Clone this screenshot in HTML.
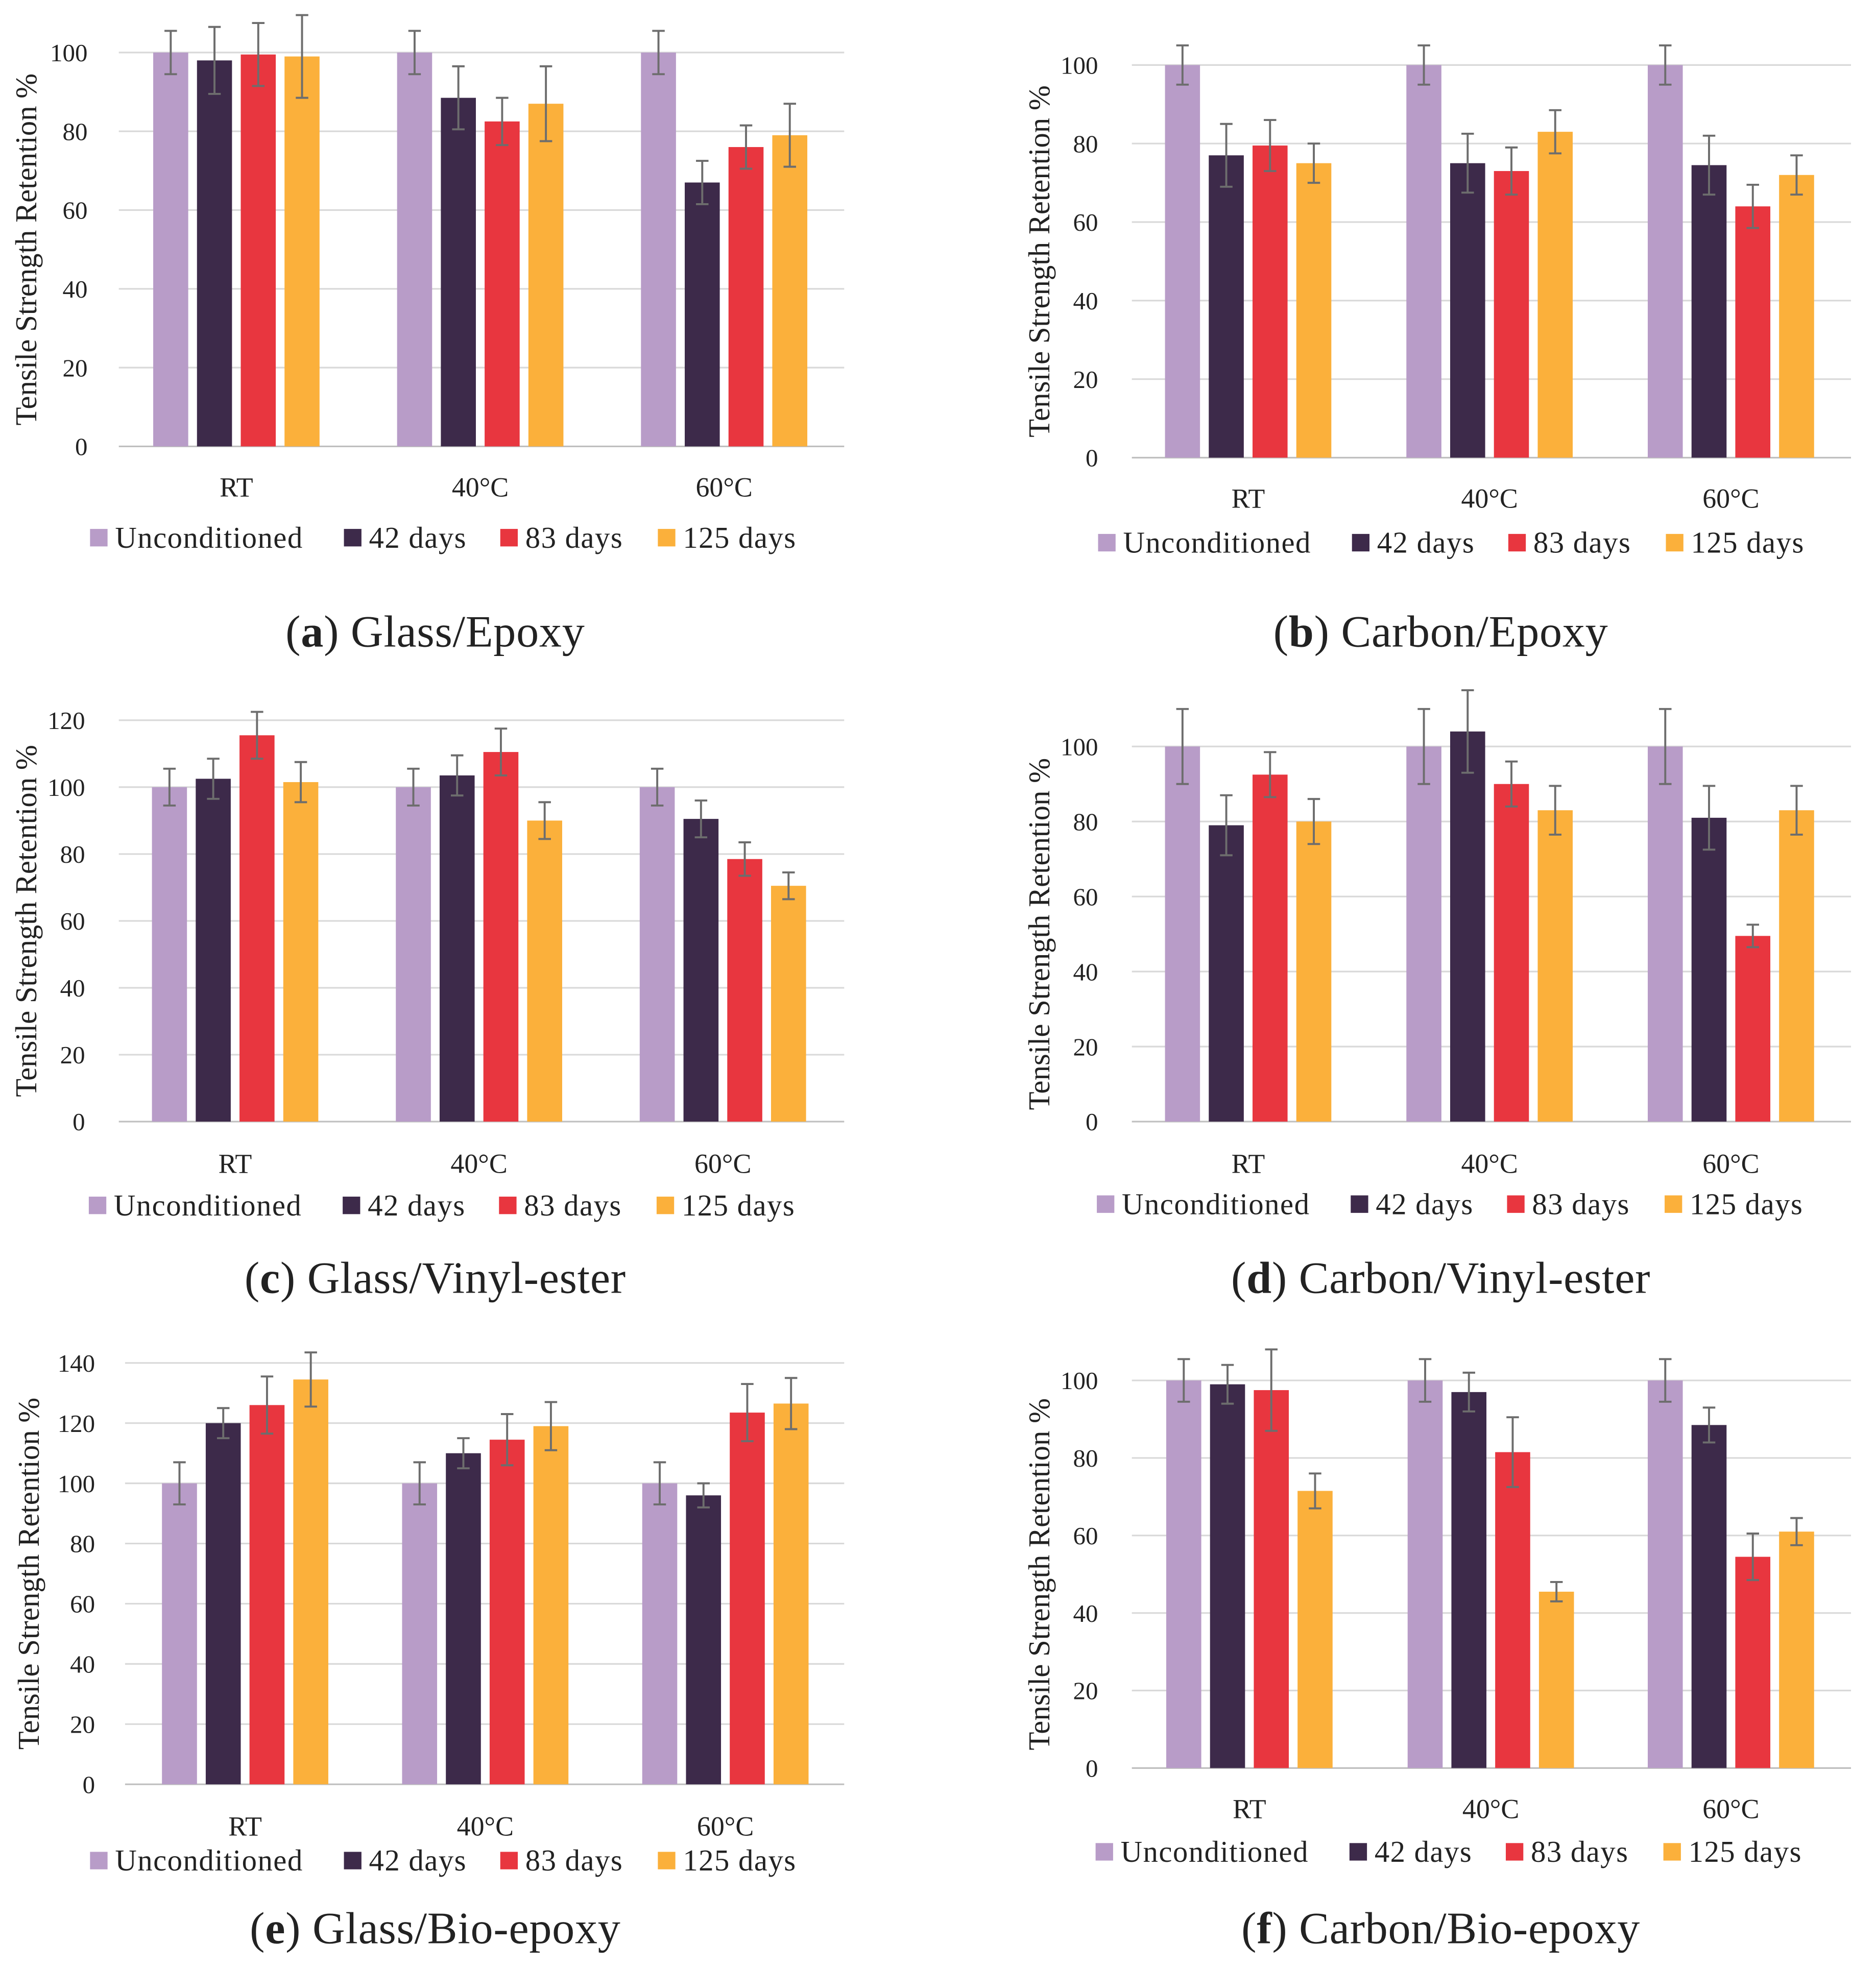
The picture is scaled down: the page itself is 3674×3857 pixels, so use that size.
<!DOCTYPE html>
<html><head><meta charset="utf-8"><style>
html,body{margin:0;padding:0;background:#fff}
svg{display:block}
text{font-family:"Liberation Serif",serif;fill:#222}
</style></head><body>
<svg id="fig" width="3674" height="3857" viewBox="0 0 1500 1574.7" xmlns="http://www.w3.org/2000/svg"></svg>
<script>
const categories = ["RT","40°C","60°C"];
const seriesNames = ["Unconditioned","42 days","83 days","125 days"];
const colors = ["#b89cc8","#3d2a4a","#e8363f","#fbb03b"];
const captionsBold = ["a","b","c","d","e","f"];
const captionsText = ["Glass/Epoxy","Carbon/Epoxy","Glass/Vinyl-ester","Carbon/Vinyl-ester","Glass/Bio-epoxy","Carbon/Bio-epoxy"];
// values [series][category]
const valuesA = [[100,100,100],[98,88.5,67],[99.5,82.5,76],[99,87,79]];
const errorsA = [[5.5,5.5,5.5],[8.5,8,5.5],[8,6,5.5],[10.5,9.5,8]];
const valuesB = [[100,100,100],[77,75,74.5],[79.5,73,64],[75,83,72]];
const errorsB = [[5,5,5],[8,7.5,7.5],[6.5,6,5.5],[5,5.5,5]];
const valuesC = [[100,100,100],[102.5,103.5,90.5],[115.5,110.5,78.5],[101.5,90,70.5]];
const errorsC = [[5.5,5.5,5.5],[6,6,5.5],[7,7,5],[6,5.5,4]];
const valuesD = [[100,100,100],[79,104,81],[92.5,90,49.5],[80,83,83]];
const errorsD = [[10,10,10],[8,11,8.5],[6,6,3],[6,6.5,6.5]];
const valuesE = [[100,100,100],[120,110,96],[126,114.5,123.5],[134.5,119,126.5]];
const errorsE = [[7,7,7],[5,5,4],[9.5,8.5,9.5],[9,8,8.5]];
const valuesF = [[100,100,100],[99,97,88.5],[97.5,81.5,54.5],[71.5,45.5,61]];
const errorsF = [[5.5,5.5,5.5],[5,5,4.5],[10.5,9,6],[4.5,2.5,3.5]];
const ticksA = [0,20,40,60,80,100];
const ticksC = [0,20,40,60,80,100,120];
const ticksE = [0,20,40,60,80,100,120,140];

const panels = [
 {v:valuesA,e:errorsA,t:ticksA,max:100,y0:357,yT:42,gx0:95,gx1:675,gc:[189,384,579],tickX:70,titleX:22,catY:390,legY:430,legX:[72,275,400,526],capX:348,capY:505},
 {v:valuesB,e:errorsB,t:ticksA,max:100,y0:366,yT:52,gx0:905,gx1:1480,gc:[998,1191,1384],tickX:878,titleX:832,catY:399,legY:434,legX:[878,1081,1206,1332],capX:1152,capY:505},
 {v:valuesC,e:errorsC,t:ticksC,max:120,y0:897,yT:576,gx0:95,gx1:675,gc:[188,383,578],tickX:68,titleX:22,catY:931,legY:964,legX:[71,274,399,525],capX:348,capY:1022},
 {v:valuesD,e:errorsD,t:ticksA,max:100,y0:897,yT:597,gx0:905,gx1:1480,gc:[998,1191,1384],tickX:878,titleX:832,catY:931,legY:963,legX:[877,1080,1205,1331],capX:1152,capY:1022},
 {v:valuesE,e:errorsE,t:ticksE,max:140,y0:1427,yT:1090,gx0:100,gx1:675,gc:[196,388,580],tickX:76,titleX:24,catY:1461,legY:1488,legX:[72,275,400,526],capX:348,capY:1542},
 {v:valuesF,e:errorsF,t:ticksA,max:100,y0:1414,yT:1104,gx0:905,gx1:1480,gc:[999,1192,1384],tickX:878,titleX:832,catY:1447,legY:1481,legX:[876,1079,1204,1330],capX:1152,capY:1542}
];
const NS="http://www.w3.org/2000/svg";
const svg=document.getElementById("fig");
function mk(tag,attrs,parent,txt){const el=document.createElementNS(NS,tag);for(const k in attrs)el.setAttribute(k,attrs[k]);if(txt!==undefined)el.textContent=txt;parent.appendChild(el);return el;}
const BW=28, STEP=35;
panels.forEach((p,pi)=>{
  const g=mk("g",{},svg);
  
  
  const y=v=>p.y0-(v/p.max)*(p.y0-p.yT);
  p.t.forEach(t=>{
    const l=mk("line",{x1:p.gx0,x2:p.gx1,y1:y(t),y2:y(t),stroke:t===0?"#bfbfbf":"#d9d9d9","stroke-width":1.3},g);
    
    
    const tx=mk("text",{x:p.tickX,y:y(t)+7,"text-anchor":"end","font-size":20},g,String(t));
    
    
  });
  const cy=(p.y0+p.yT)/2;
  const tt=mk("text",{x:p.titleX,y:cy,"text-anchor":"middle","font-size":24,transform:`rotate(-90 ${p.titleX} ${cy})`,dy:7},g,"Tensile Strength Retention %");
  
  
  categories.forEach((c,ci)=>{
    const cx=p.gc[ci];
    const ct=mk("text",{x:cx,y:p.catY+7,"text-anchor":"middle","font-size":22},g,c);
    
    
    seriesNames.forEach((s,si)=>{
      const bx=cx-1.5*STEP+si*STEP-BW/2;
      const v=p.v[si][ci], e=p.e[si][ci];
      const r=mk("rect",{x:bx,y:y(v),width:BW,height:p.y0-y(v),fill:colors[si]},g);
      
      
      const mx=bx+BW/2;
      const eb=mk("path",{d:`M${mx} ${y(v+e)}V${y(v-e)}M${mx-5} ${y(v+e)}H${mx+5}M${mx-5} ${y(v-e)}H${mx+5}`,stroke:"#6d6d6d","stroke-width":1.6,fill:"none"},g);
      
      
    });
  });
  seriesNames.forEach((s,si)=>{
    const lx=p.legX[si];
    const sq=mk("rect",{x:lx,y:p.legY-7,width:14,height:14,fill:colors[si]},g);
    
    
    const lt=mk("text",{x:lx+20,y:p.legY+8,"font-size":24,"letter-spacing":0.6},g,s);
    
    
  });
  const cap=mk("text",{x:p.capX,y:p.capY+12,"text-anchor":"middle","font-size":36,"letter-spacing":0.3},g);
  
  
  mk("tspan",{},cap,"(");
  mk("tspan",{"font-weight":"bold"},cap,captionsBold[pi]);
  mk("tspan",{},cap,") "+captionsText[pi]);
});
</script>
</body></html>
